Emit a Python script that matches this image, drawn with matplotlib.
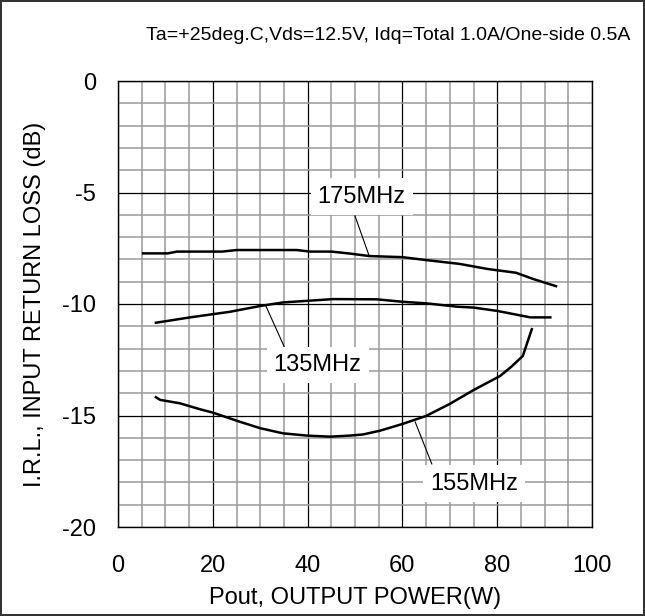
'''
Input return loss vs output power at three frequencies.
'''
import matplotlib
matplotlib.use('Agg')
import matplotlib.pyplot as plt
from matplotlib.ticker import MultipleLocator

plt.rcParams['font.family'] = ['Liberation Sans', 'DejaVu Sans']
plt.rcParams['axes.unicode_minus'] = False

# Pout (W) and I.R.L. (dB) for each frequency
pout_175 = [5.3, 10.5, 12.4, 22, 25, 37.7, 40.5, 45, 49, 53, 60, 65, 72, 78, 84, 87.6, 92.4]
irl_175 = [-7.73, -7.73, -7.65, -7.65, -7.58, -7.58, -7.65, -7.65, -7.74, -7.85, -7.9,
           -8.03, -8.2, -8.43, -8.6, -8.88, -9.2]

pout_135 = [8, 15.2, 23.6, 30, 34.8, 40.5, 45.4, 54.6, 60, 65, 71.5, 75, 80, 87, 91.2]
irl_135 = [-10.84, -10.6, -10.35, -10.09, -9.93, -9.85, -9.78, -9.79, -9.9, -9.97,
           -10.12, -10.16, -10.31, -10.6, -10.6]

pout_155 = [8, 8.9, 13, 17.3, 20, 25.7, 30, 34.8, 39.8, 44.7, 49, 51.7, 55.3, 60, 65,
            70, 75, 80.6, 83, 85.4, 86.3, 87.3]
irl_155 = [-14.18, -14.3, -14.45, -14.72, -14.87, -15.28, -15.57, -15.8, -15.9, -15.95,
           -15.9, -15.85, -15.68, -15.38, -15.02, -14.48, -13.86, -13.23, -12.81,
           -12.33, -11.76, -11.13]

# label text, label centre, leader line start and end
labels = ['175MHz', '135MHz', '155MHz']
label_xy = [(51.4, -5.18), (42.1, -12.74), (75.2, -18.05)]
leader_from = [(50.0, -6.05), (35.1, -11.93), (66.2, -17.17)]
leader_to = [(53.0, -7.85), (31.2, -10.09), (62.7, -15.29)]

fig = plt.figure(figsize=(6.45, 6.16), dpi=100, linewidth=1.5, edgecolor='#333333')
ax = fig.add_axes([118 / 645, 89 / 616, 474 / 645, 446 / 616])

ax.set_xlim(0, 100)
ax.set_ylim(-20, 0)
ax.xaxis.set_major_locator(MultipleLocator(20))
ax.xaxis.set_minor_locator(MultipleLocator(5))
ax.yaxis.set_major_locator(MultipleLocator(5))
ax.yaxis.set_minor_locator(MultipleLocator(1))
ax.grid(which='minor', color='#9a9a9a', lw=1.1, zorder=0)
ax.grid(which='major', color='black', lw=0.9, zorder=0)
ax.set_axisbelow(True)
ax.tick_params(which='both', length=0, labelsize=17)
ax.tick_params(axis='x', pad=20)
ax.tick_params(axis='y', pad=16)
for spine in ax.spines.values():
    spine.set_linewidth(1.0)

for x, y in [(pout_175, irl_175), (pout_135, irl_135), (pout_155, irl_155)]:
    ax.plot(x, y, color='black', lw=1.8, zorder=3)

for text, xy, p0, p1 in zip(labels, label_xy, leader_from, leader_to):
    ax.plot([p0[0], p1[0]], [p0[1], p1[1]], color='black', lw=0.8, zorder=3)
    ax.text(xy[0], xy[1], text, ha='center', va='center', fontsize=17, zorder=4,
            bbox=dict(boxstyle='square,pad=0.3', fc='white', ec='none'))

ax.set_xlabel('Pout, OUTPUT POWER(W)', fontsize=17, va='center')
ax.xaxis.set_label_coords(0.5, -(598 - 527) / 446)
ax.set_ylabel('I.R.L., INPUT RETURN LOSS (dB)', fontsize=17, va='center')
ax.yaxis.set_label_coords((35 - 118) / 474, 0.5)

fig.text(630 / 645, 1 - 36 / 616, 'Ta=+25deg.C,Vds=12.5V, Idq=Total 1.0A/One-side 0.5A',
         ha='right', va='center', fontsize=14)

plt.savefig('out.png', dpi=100)
